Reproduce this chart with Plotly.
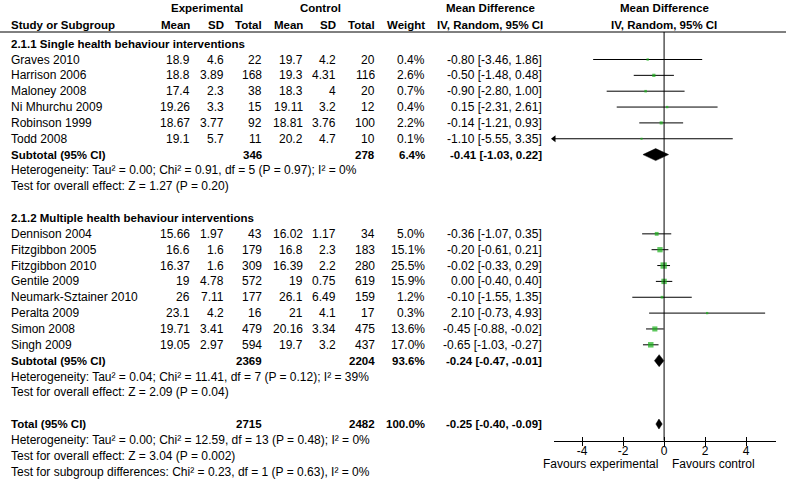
import plotly.graph_objects as go

# ---------------- data ----------------
g1_title = "2.1.1 Single health behaviour interventions"
g1_study = ["Graves 2010", "Harrison 2006", "Maloney 2008", "Ni Mhurchu 2009", "Robinson 1999", "Todd 2008"]
g1_exp_mean = [18.9, 18.8, 17.4, 19.26, 18.67, 19.1]
g1_exp_sd = [4.6, 3.89, 2.3, 3.3, 3.77, 5.7]
g1_exp_n = [22, 168, 38, 15, 92, 11]
g1_ctl_mean = [19.7, 19.3, 18.3, 19.11, 18.81, 20.2]
g1_ctl_sd = [4.2, 4.31, 4, 3.2, 3.76, 4.7]
g1_ctl_n = [20, 116, 20, 12, 100, 10]
g1_weight = [0.4, 2.6, 0.7, 0.4, 2.2, 0.1]
g1_md = [-0.80, -0.50, -0.90, 0.15, -0.14, -1.10]
g1_lo = [-3.46, -1.48, -2.80, -2.31, -1.21, -5.55]
g1_hi = [1.86, 0.48, 1.00, 2.61, 0.93, 3.35]
g1_sub = dict(exp_n=346, ctl_n=278, weight=6.4, md=-0.41, lo=-1.03, hi=0.22)
g1_het = "Heterogeneity: Tau² = 0.00; Chi² = 0.91, df = 5 (P = 0.97); I² = 0%"
g1_test = "Test for overall effect: Z = 1.27 (P = 0.20)"

g2_title = "2.1.2 Multiple health behaviour interventions"
g2_study = ["Dennison 2004", "Fitzgibbon 2005", "Fitzgibbon 2010", "Gentile 2009",
            "Neumark-Sztainer 2010", "Peralta 2009", "Simon 2008", "Singh 2009"]
g2_exp_mean = [15.66, 16.6, 16.37, 19, 26, 23.1, 19.71, 19.05]
g2_exp_sd = [1.97, 1.6, 1.6, 4.78, 7.11, 4.2, 3.41, 2.97]
g2_exp_n = [43, 179, 309, 572, 177, 16, 479, 594]
g2_ctl_mean = [16.02, 16.8, 16.39, 19, 26.1, 21, 20.16, 19.7]
g2_ctl_sd = [1.17, 2.3, 2.2, 0.75, 6.49, 4.1, 3.34, 3.2]
g2_ctl_n = [34, 183, 280, 619, 159, 17, 475, 437]
g2_weight = [5.0, 15.1, 25.5, 15.9, 1.2, 0.3, 13.6, 17.0]
g2_md = [-0.36, -0.20, -0.02, 0.00, -0.10, 2.10, -0.45, -0.65]
g2_lo = [-1.07, -0.61, -0.33, -0.40, -1.55, -0.73, -0.88, -1.03]
g2_hi = [0.35, 0.21, 0.29, 0.40, 1.35, 4.93, -0.02, -0.27]
g2_sub = dict(exp_n=2369, ctl_n=2204, weight=93.6, md=-0.24, lo=-0.47, hi=-0.01)
g2_het = "Heterogeneity: Tau² = 0.04; Chi² = 11.41, df = 7 (P = 0.12); I² = 39%"
g2_test = "Test for overall effect: Z = 2.09 (P = 0.04)"

tot = dict(exp_n=2715, ctl_n=2482, weight=100.0, md=-0.25, lo=-0.40, hi=-0.09)
tot_het = "Heterogeneity: Tau² = 0.00; Chi² = 12.59, df = 13 (P = 0.48); I² = 0%"
tot_test = "Test for overall effect: Z = 3.04 (P = 0.002)"
tot_sub = "Test for subgroup differences: Chi² = 0.23, df = 1 (P = 0.63), I² = 0%"

tick_vals = [-4, -2, 0, 2, 4]
tick_text = ["-4", "-2", "0", "2", "4"]
fav_left = "Favours experimental"
fav_right = "Favours control"

# ---------------- layout constants ----------------
W, H = 786, 480
FONT = "Liberation Sans, Arial, sans-serif"
FS = 12
FSB = 11.5
ROW0, DY = 59.5, 15.85
XMIN, XMAX = -5.37, 5.46
AX_L, AX_R = 554, 776
AX_Y = 440.5
LEFT = 10
COL = dict(em=191, esd=225, en=263, cm=304, csd=337, cn=376, w=426, ci=543)
GREEN = "#19b019"


def ry(i):
    return ROW0 + i * DY


def fmt(v):
    return str(v)


def ci_txt(m, lo, hi):
    return f"{m:.2f} [{lo:.2f}, {hi:.2f}]"


ann = []


def txt(x, y, s, anchor="right", bold=False):
    ann.append(dict(x=x, y=y, xref="x", yref="y", text=f"<b>{s}</b>" if bold else s,
                    showarrow=False, xanchor=anchor, yanchor="middle",
                    font=dict(family=FONT, size=FSB if bold else FS, color="black"),
                    borderpad=0))


# header
txt(207, 7.5, "Experimental", "center", True)
txt(320, 7.5, "Control", "center", True)
txt(490, 7.5, "Mean Difference", "center", True)
txt(664, 7.5, "Mean Difference", "center", True)
txt(LEFT, 25, "Study or Subgroup", "left", True)
for k, s in [("em", "Mean"), ("esd", "SD"), ("en", "Total"), ("cm", "Mean"), ("csd", "SD"), ("cn", "Total"), ("w", "Weight")]:
    txt(COL[k], 25, s, "right", True)
txt(490, 25, "IV, Random, 95% CI", "center", True)
txt(664, 25, "IV, Random, 95% CI", "center", True)

study_rows = []  # (y, md, lo, hi, weight)
diamonds = []    # (y, md, lo, hi, half)


def study_block(start, title, st, em, esd, en, cm, csd, cn, w, md, lo, hi, sub, het, test):
    txt(LEFT, ry(start - 1), title, "left", True)
    for j in range(len(st)):
        y = ry(start + j)
        txt(LEFT, y, st[j], "left")
        txt(COL["em"], y, fmt(em[j]))
        txt(COL["esd"], y, fmt(esd[j]))
        txt(COL["en"], y, fmt(en[j]))
        txt(COL["cm"], y, fmt(cm[j]))
        txt(COL["csd"], y, fmt(csd[j]))
        txt(COL["cn"], y, fmt(cn[j]))
        txt(COL["w"], y, f"{w[j]:.1f}%")
        txt(COL["ci"], y, ci_txt(md[j], lo[j], hi[j]))
        study_rows.append((y, md[j], lo[j], hi[j], w[j]))
    k = start + len(st)
    y = ry(k)
    txt(LEFT, y, "Subtotal (95% CI)", "left", True)
    txt(COL["en"], y, fmt(sub["exp_n"]), bold=True)
    txt(COL["cn"], y, fmt(sub["ctl_n"]), bold=True)
    txt(COL["w"], y, f"{sub['weight']:.1f}%", bold=True)
    txt(COL["ci"], y, ci_txt(sub["md"], sub["lo"], sub["hi"]), bold=True)
    diamonds.append((y, sub["md"], sub["lo"], sub["hi"], 6))
    txt(LEFT, ry(k + 1), het, "left")
    txt(LEFT, ry(k + 2), test, "left")


study_block(0, g1_title, g1_study, g1_exp_mean, g1_exp_sd, g1_exp_n, g1_ctl_mean, g1_ctl_sd, g1_ctl_n,
            g1_weight, g1_md, g1_lo, g1_hi, g1_sub, g1_het, g1_test)
study_block(11, g2_title, g2_study, g2_exp_mean, g2_exp_sd, g2_exp_n, g2_ctl_mean, g2_ctl_sd, g2_ctl_n,
            g2_weight, g2_md, g2_lo, g2_hi, g2_sub, g2_het, g2_test)

y = ry(23)
txt(LEFT, y, "Total (95% CI)", "left", True)
txt(COL["en"], y, fmt(tot["exp_n"]), bold=True)
txt(COL["cn"], y, fmt(tot["ctl_n"]), bold=True)
txt(COL["w"], y, f"{tot['weight']:.1f}%", bold=True)
txt(COL["ci"], y, ci_txt(tot["md"], tot["lo"], tot["hi"]), bold=True)
diamonds.append((y, tot["md"], tot["lo"], tot["hi"], 5))
txt(LEFT, ry(24), tot_het, "left")
txt(LEFT, ry(25), tot_test, "left")
txt(LEFT, ry(26), tot_sub, "left")

fig = go.Figure()

# CI lines
lx, ly, ax_, ay_ = [], [], [], []
for (y, m, lo, hi, w) in study_rows:
    a = max(lo, XMIN)
    b = min(hi, XMAX)
    lx += [a, b, None]
    ly += [y, y, None]
    if lo < XMIN:
        ax_.append(XMIN)
        ay_.append(y)
fig.add_trace(go.Scatter(x=lx, y=ly, xaxis="x2", yaxis="y", mode="lines",
                         line=dict(color="black", width=1), hoverinfo="skip"))
if ax_:
    fig.add_trace(go.Scatter(x=ax_, y=ay_, xaxis="x2", yaxis="y", mode="markers", cliponaxis=False,
                             marker=dict(symbol="triangle-left", size=6, color="black"),
                             hoverinfo="skip"))

# squares
fig.add_trace(go.Scatter(
    x=[r[1] for r in study_rows], y=[r[0] for r in study_rows], xaxis="x2", yaxis="y",
    mode="markers",
    marker=dict(symbol="square", color=GREEN, line=dict(width=0),
                size=[1.8 + 0.9 * (r[4] ** 0.5) for r in study_rows]),
    hoverinfo="skip"))

# diamonds
for (y, m, lo, hi, h) in diamonds:
    fig.add_trace(go.Scatter(x=[lo, m, hi, m, lo], y=[y, y - h, y, y + h, y], xaxis="x2", yaxis="y",
                             mode="lines", fill="toself", fillcolor="black",
                             line=dict(color="black", width=0.5), hoverinfo="skip"))

# dummy trace for the tick overlay axis
fig.add_trace(go.Scatter(x=[0], y=[None], xaxis="x3", yaxis="y", mode="markers",
                         marker=dict(opacity=0), hoverinfo="skip"))

# favours labels
ann.append(dict(x=0, y=464, xref="x2", yref="y", text=fav_left, showarrow=False, xanchor="right",
                xshift=-5, yanchor="middle", font=dict(family=FONT, size=FS, color="black"), borderpad=0))
ann.append(dict(x=0, y=464, xref="x2", yref="y", text=fav_right, showarrow=False, xanchor="left",
                xshift=7, yanchor="middle", font=dict(family=FONT, size=FS, color="black"), borderpad=0))

shapes = [
    dict(type="line", xref="paper", yref="y", x0=0, x1=1, y0=32, y1=32, line=dict(color="black", width=1)),
    dict(type="line", xref="x2", yref="y", x0=0, x1=0, y0=32, y1=AX_Y, line=dict(color="black", width=1)),
]

pos = 1 - AX_Y / H
fig.update_layout(
    width=W, height=H, margin=dict(l=0, r=0, t=0, b=0, autoexpand=False),
    paper_bgcolor="white", plot_bgcolor="white", showlegend=False,
    annotations=ann, shapes=shapes,
    xaxis=dict(range=[0, W], domain=[0, 1], visible=False, fixedrange=True),
    yaxis=dict(range=[H, 0], domain=[0, 1], visible=False, fixedrange=True),
    xaxis2=dict(domain=[AX_L / W, AX_R / W], range=[XMIN, XMAX], anchor="free", position=pos,
                showline=True, linecolor="black", linewidth=1, ticks="outside", ticklen=4,
                tickcolor="black", tickwidth=1, tickvals=tick_vals, ticktext=tick_text,
                ticklabelstandoff=-5,
                tickfont=dict(family=FONT, size=FS, color="black"), showgrid=False, zeroline=False,
                fixedrange=True),
    xaxis3=dict(domain=[AX_L / W, AX_R / W], range=[XMIN, XMAX], anchor="free", position=pos,
                overlaying="x2", showline=False, ticks="inside", ticklen=4, tickcolor="black",
                tickwidth=1, tickvals=tick_vals, showticklabels=False, showgrid=False,
                zeroline=False, fixedrange=True),
)

fig.write_html("out.html", config={"displayModeBar": False},
               post_script="document.body.style.margin='0';document.body.style.padding='0';")
